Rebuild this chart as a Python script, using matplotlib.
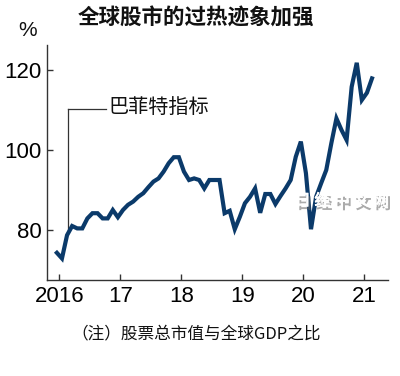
import matplotlib
matplotlib.use("Agg")
import matplotlib.pyplot as plt
import matplotlib.patheffects as pe
import numpy as np
from matplotlib import font_manager

title = "全球股市的过热迹象加强"
series_label = "巴菲特指标"
note = "（注）股票总市值与全球GDP之比"
watermark = "日 经 中 文 网"
unit = "%"

start_year = 2016
values = [
    74.3, 72.9, 78.7, 81.0, 80.4, 80.4, 82.9, 84.2, 84.2, 82.9, 82.9, 85.0,
    83.2, 85.0, 86.3, 87.1, 88.3, 89.2, 90.7, 92.1, 92.9, 94.6, 96.7, 98.2,
    98.2, 94.6, 92.5, 92.9, 92.5, 90.4, 92.5, 92.5, 92.5, 84.2, 84.8, 80.2,
    83.3, 86.7, 88.3, 90.4, 84.3, 89.0, 89.0, 86.5, 88.5, 90.4, 92.5, 98.3,
    102.1, 94.2, 80.2, 88.3, 91.7, 95.0, 101.7, 107.9, 105.0, 102.5, 115.8, 121.8,
    112.5, 114.3, 117.9,
]
xtick_pos = [2016, 2017, 2018, 2019, 2020, 2021]
xtick_labels = ["2016", "17", "18", "19", "20", "21"]
ytick_pos = [80, 100, 120]
ytick_labels = ["80", "100", "120"]

cjk = "Noto Sans CJK SC"
avail = {f.name for f in font_manager.fontManager.ttflist}
numfont = "Liberation Sans Narrow" if "Liberation Sans Narrow" in avail else "Liberation Sans"
plt.rcParams['font.family'] = [cjk, 'DejaVu Sans']

x = start_year + np.arange(len(values)) / 12.0 - 0.04

fig = plt.figure(figsize=(4.0, 3.76), dpi=100)
ax = fig.add_axes([0.1175, 0.2553, 0.8525, 0.625])
line_color = "#0b3a6a"
ax.plot(x, values, color=line_color, lw=3.0, solid_joinstyle='miter', zorder=3)

ax.set_xlim(2015.798, 2021.389)
ax.set_ylim(67.5, 126.25)
for s in ["top", "right"]:
    ax.spines[s].set_visible(False)
for s in ["left", "bottom"]:
    ax.spines[s].set_color("#333333")
    ax.spines[s].set_linewidth(1.0)
ax.set_xticks(xtick_pos)
ax.set_xticklabels(xtick_labels, fontfamily=numfont, fontsize=16)
ax.set_yticks(ytick_pos)
ax.set_yticklabels(ytick_labels, fontfamily=numfont, fontsize=16)
ax.tick_params(direction='in', length=4, width=1.0, color="#333333", pad=4)

# annotation leader
ax.plot([2016.145, 2016.145], [79.3, 110.3], color="#333333", lw=0.9, zorder=2)
ax.plot([2016.145, 2016.76], [110.3, 110.3], color="#333333", lw=0.9, zorder=2)
ax.text(2016.8, 110.6, series_label, fontsize=14.5, va='center', ha='left', color="#111111")

fig.text(0.07, 0.92, unit, fontfamily=numfont, fontsize=15, ha='center', va='center', color="#111111")
fig.text(0.49, 0.952, title, fontsize=15.5, fontweight='bold', ha='center', va='center', color="#111111")
fig.text(0.49, 0.113, note, fontsize=12, ha='center', va='center', color="#111111")

wm = fig.text(0.855, 0.467, watermark, fontsize=11.5, fontweight='bold', ha='center', va='center',
              color="white", alpha=0.95)
wm.set_path_effects([pe.withSimplePatchShadow(offset=(1.5, -2.5), shadow_rgbFace='#666666', alpha=0.55), pe.Normal()])

fig.savefig("out.png", dpi=100)
